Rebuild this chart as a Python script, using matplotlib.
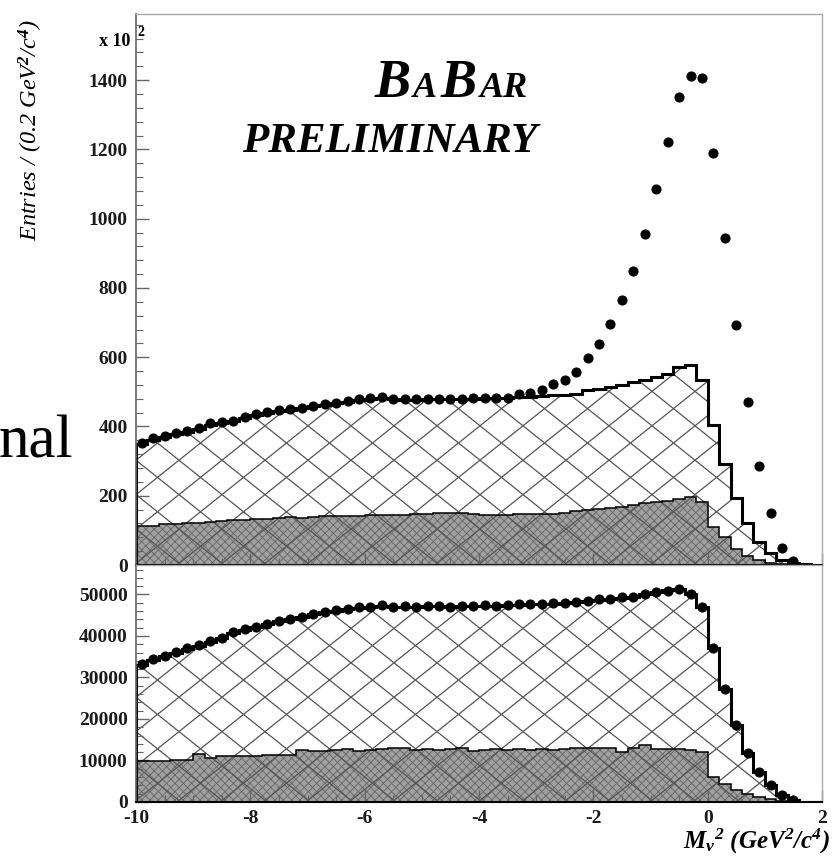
import numpy as np
import matplotlib.pyplot as plt
from matplotlib.collections import LineCollection
from matplotlib.ticker import MultipleLocator

plt.rcParams['font.family'] = 'Liberation Serif'
plt.rcParams['mathtext.fontset'] = 'custom'
plt.rcParams['mathtext.rm'] = 'Liberation Serif:bold:italic'
plt.rcParams['mathtext.it'] = 'Liberation Serif:bold:italic'
plt.rcParams['mathtext.bf'] = 'Liberation Serif:bold:italic'
plt.rcParams['hatch.linewidth'] = 0.6

# 0.2 GeV^2 bins from -10 to 2
edges = np.linspace(-10, 2, 61)
centers = 0.5 * (edges[:-1] + edges[1:])

# upper panel (in units of 10^2)
top_data = np.array([
    353, 366, 372, 380, 387, 395, 409, 412, 417, 428,
    435, 441, 449, 450, 454, 459, 465, 469, 474, 478,
    481, 486, 478, 478, 478, 478, 479, 479, 479, 483,
    483, 483, 483, 494, 498, 505, 522, 534, 558, 597,
    638, 696, 765, 849, 956, 1085, 1221, 1351, 1412, 1406,
    1189, 943, 693, 471, 286, 150, 49, 12, 0, 0], dtype=float)
top_total = np.array([
    348, 362, 370, 378, 385, 393, 404, 410, 416, 425,
    432, 439, 446, 449, 453, 458, 463, 468, 472, 476,
    479, 481, 478, 477, 477, 478, 478, 478, 479, 480,
    481, 481, 482, 484, 486, 488, 490, 491, 493, 505,
    508, 515, 521, 528, 534, 543, 552, 572, 577, 535,
    404, 292, 193, 120, 67, 34, 14, 7, 3, 1], dtype=float)
top_dark = np.array([
    113, 113, 117, 118, 120, 122, 125, 127, 130, 131,
    133, 134, 136, 138, 137, 140, 141, 141, 142, 141,
    143, 144, 144, 145, 146, 148, 149, 149, 150, 148,
    144, 145, 145, 146, 146, 147, 148, 150, 156, 158,
    161, 164, 167, 172, 178, 182, 186, 190, 197, 181,
    111, 82, 45, 26, 14, 7, 4, 2, 1, 0], dtype=float)

# lower panel
bot_data = np.array([
    33200, 34400, 35200, 36200, 37000, 37800, 38800, 39400, 41000, 41600,
    42200, 43000, 43600, 44200, 44600, 45400, 45800, 46200, 46600, 46900,
    47000, 47400, 47000, 47200, 47100, 47300, 47200, 47100, 47300, 47200,
    47400, 47300, 47500, 47600, 47600, 47800, 47900, 48000, 48200, 48500,
    48800, 49000, 49300, 49400, 50200, 50500, 50900, 51200, 50200, 47000,
    37200, 27300, 18500, 11700, 7200, 4000, 1600, 500, 0, 0], dtype=float)
bot_total = np.array([
    33000, 34200, 35100, 36000, 36900, 37700, 38600, 39400, 40800, 41500,
    42200, 42900, 43500, 44100, 44600, 45200, 45700, 46100, 46500, 46800,
    47000, 47200, 47100, 47100, 47100, 47200, 47200, 47100, 47200, 47200,
    47300, 47300, 47400, 47500, 47600, 47700, 47800, 48000, 48200, 48400,
    48700, 49000, 49200, 49500, 50000, 50500, 51000, 51300, 50200, 47000,
    37200, 27300, 18500, 11700, 7200, 4000, 1700, 600, 100, 0], dtype=float)
bot_dark = np.array([
    9900, 9900, 9900, 10100, 10200, 11500, 10700, 11000, 11100, 11200,
    11000, 11300, 11400, 11300, 12500, 12400, 12300, 12600, 12800, 12400,
    12500, 12700, 12900, 12900, 12600, 12800, 12500, 12700, 12900, 12400,
    12600, 12800, 12500, 12700, 12600, 12800, 12500, 12700, 12900, 12900,
    12900, 12900, 12100, 12900, 13700, 12800, 12700, 12700, 12600, 12100,
    6000, 4400, 2800, 1900, 1200, 700, 300, 100, 0, 0], dtype=float)

x_ticks = [-10, -8, -6, -4, -2, 0, 2]

W_PX, H_PX = 836, 857
fig = plt.figure(figsize=(W_PX / 100, H_PX / 100), dpi=100)

left, right = 136, 822
top_y0, top_y1 = 14, 565
bot_y0, bot_y1 = 565, 802


def frac_box(x0, x1, y0, y1):
    return [x0 / W_PX, 1 - y1 / H_PX, (x1 - x0) / W_PX, (y1 - y0) / H_PX]


ax_top = fig.add_axes(frac_box(left, right, top_y0, top_y1))
ax_bot = fig.add_axes(frac_box(left, right, bot_y0, bot_y1), sharex=ax_top)


def crosshatch(ax, clip, w, h, spacing=43.0, slope=0.8):
    # big diagonal cross-hatching, drawn in pixel space and clipped to the histogram
    dc = slope * spacing
    segs = []
    for c in np.arange(-slope * w - dc, h + slope * w + dc, dc):
        segs.append([(0, c / h), (1, (c + slope * w) / h)])
        segs.append([(0, c / h), (1, (c - slope * w) / h)])
    lc = LineCollection(segs, transform=ax.transAxes, colors='#555555',
                        linewidths=0.9, zorder=1.5)
    lc.set_clip_path(clip)
    ax.add_collection(lc)


def draw_panel(ax, data, total, dark, h_px):
    clip = ax.stairs(total, edges, fill=True, facecolor='white',
                     edgecolor='none', linewidth=0, zorder=0.5)
    ax.stairs(dark, edges, fill=True, facecolor='#a0a0a0', edgecolor='#666666',
              hatch='xxxx', linewidth=0, zorder=1)
    crosshatch(ax, clip, right - left, h_px)
    ax.stairs(dark, edges, baseline=0, color='black', linewidth=1.1, zorder=2)
    ax.stairs(total, edges, baseline=0, color='black', linewidth=2.2, zorder=2.2)
    shown = np.where(data > 0, data, np.nan)
    ax.plot(centers, shown, 'o', color='black', ms=6.3, mec='black', zorder=3)


draw_panel(ax_top, top_data, top_total, top_dark, top_y1 - top_y0)
draw_panel(ax_bot, bot_data, bot_total, bot_dark, bot_y1 - bot_y0)

ax_top.set_xlim(-10, 2)
ax_top.set_ylim(0, 1591)
ax_bot.set_ylim(0, 57100)

ax_top.yaxis.set_major_locator(MultipleLocator(200))
ax_top.yaxis.set_minor_locator(MultipleLocator(40))
ax_bot.yaxis.set_major_locator(MultipleLocator(10000))
ax_bot.yaxis.set_minor_locator(MultipleLocator(2000))
ax_bot.set_xticks(x_ticks)
ax_bot.xaxis.set_minor_locator(MultipleLocator(0.5))

for ax in (ax_top, ax_bot):
    for side in ('top', 'right'):
        ax.spines[side].set_color('#aaaaaa')
        ax.spines[side].set_linewidth(1.0)
    ax.spines['left'].set_color('#666666')
    ax.spines['left'].set_linewidth(1.2)
    ax.spines['bottom'].set_color('black')
    ax.spines['bottom'].set_linewidth(1.5)
    ax.tick_params(axis='both', which='both', direction='in', colors='#666666',
                   top=False, right=False, labelcolor='#1a1a1a')
    ax.tick_params(axis='both', which='major', length=9, width=1, pad=6)
    ax.tick_params(axis='both', which='minor', length=5, width=0.8)
    for lab in ax.get_yticklabels() + ax.get_xticklabels():
        lab.set_fontweight('bold')
        lab.set_fontsize(14)

ax_top.tick_params(axis='x', which='both', labelbottom=False)
ax_bot.tick_params(axis='x', which='major', pad=6)
ax_bot.set_xticklabels([str(t) for t in x_ticks], fontweight='bold', fontsize=14)

# axis titles
fig.text(31 / W_PX, 1 - 130 / H_PX, r'Entries / (0.2 GeV$^{2}$/c$^{4}$)',
         rotation=90, style='italic', fontsize=17.5, ha='center', va='center')
fig.text(830 / W_PX, 1 - 849 / H_PX, r'M$_{\nu}$$^{2}$ (GeV$^{2}$/c$^{4}$)',
         style='italic', fontweight='bold', fontsize=18, ha='right', va='baseline')

# exponent for the upper panel
fig.text(130 / W_PX, 1 - 41 / H_PX, 'x 10', fontweight='bold', fontsize=13,
         ha='right', va='center')
fig.text(137 / W_PX, 1 - 33 / H_PX, '2', fontweight='bold', fontsize=10,
         ha='left', va='center')

# experiment logo in small caps
renderer = fig.canvas.get_renderer()
pieces = [('B', 39), ('A', 26), ('B', 39), ('AR', 26)]
x_cur = 374 / W_PX
base = 1 - 97 / H_PX
for txt, size in pieces:
    t = fig.text(x_cur, base, txt, fontsize=size, fontweight='bold', style='italic',
                 ha='left', va='baseline')
    bb = t.get_window_extent(renderer)
    x_cur += bb.width / W_PX + 3 / W_PX

fig.text(390 / W_PX, 1 - 152 / H_PX, 'PRELIMINARY', fontsize=31,
         fontweight='bold', style='italic', ha='center', va='baseline')

fig.text(-0.002, 1 - 457 / H_PX, 'nal', fontsize=44, ha='left', va='baseline')

fig.savefig('out.png', dpi=100)
